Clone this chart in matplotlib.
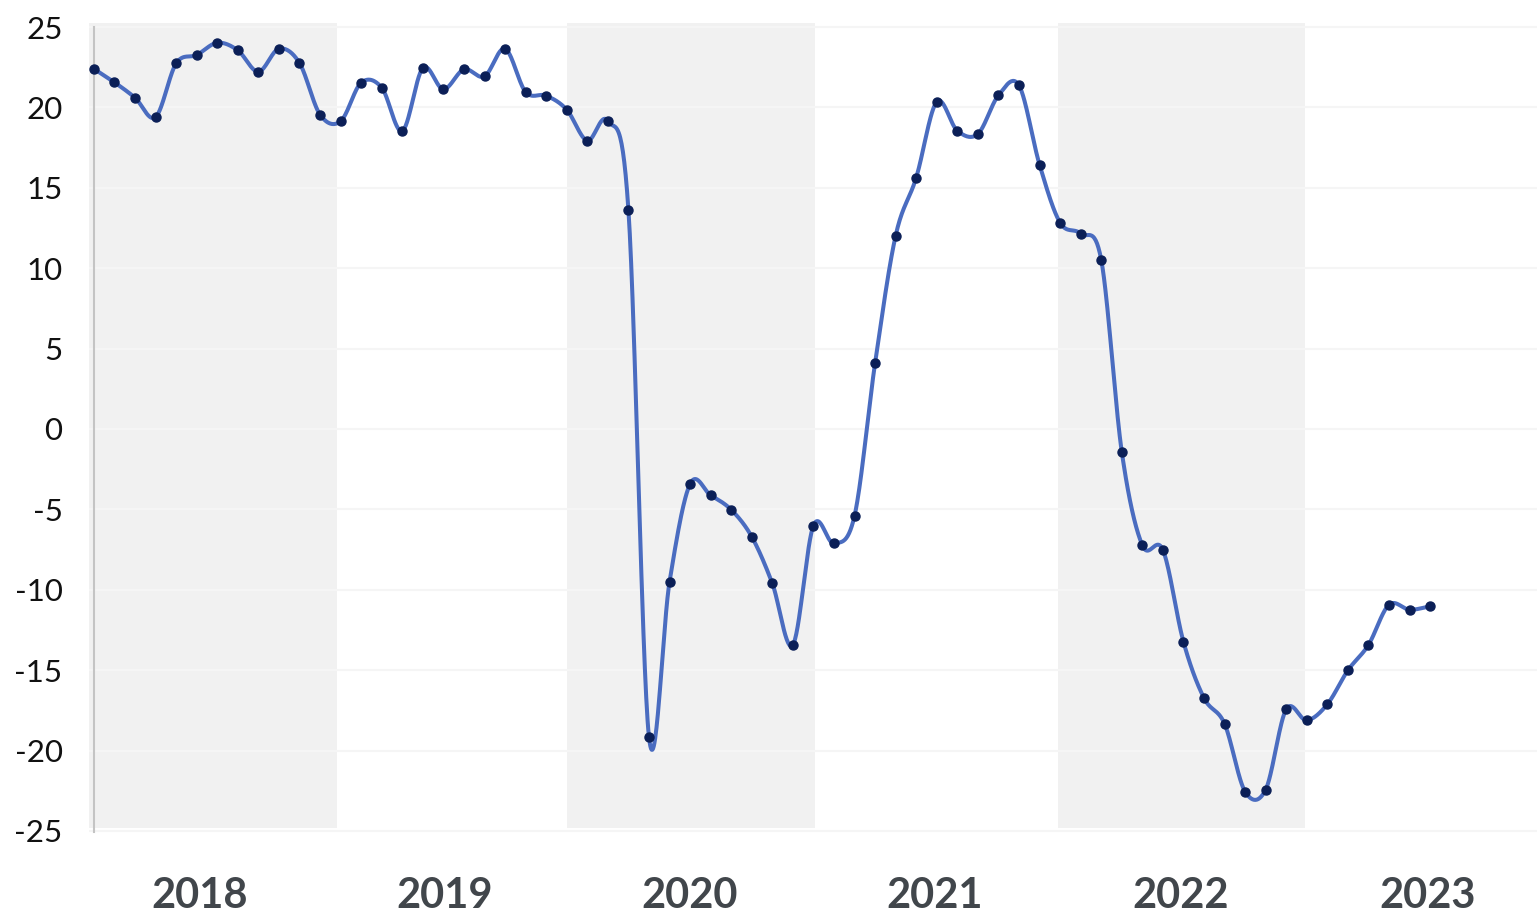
import numpy as np
import matplotlib
matplotlib.use("Agg")
import matplotlib.pyplot as plt

# monthly values, Jan 2018 .. Jun 2023 (month index 0..65)
values = [
    22.4, 21.56, 20.6, 19.4, 22.74, 23.26, 24.02, 23.55, 22.22, 23.65, 22.76, 19.55,
    19.14, 21.54, 21.23, 18.53, 22.45, 21.13, 22.37, 21.93, 23.65, 20.96, 20.73, 19.86,
    17.93, 19.14, 13.64, -19.14, -9.51, -3.42, -4.12, -5.02, -6.70, -9.60, -13.43, -6.01,
    -7.11, -5.4, 4.1, 12.02, 15.63, 20.35, 18.55, 18.35, 20.75, 21.37, 16.44, 12.83,
    12.15, 10.53, -1.41, -7.23, -7.52, -13.23, -16.73, -18.33, -22.55, -22.43, -17.43, -18.12,
    -17.12, -15.01, -13.43, -10.93, -11.24, -11.03,
]
months = np.arange(len(values))

year_labels = ["2018", "2019", "2020", "2021", "2022", "2023"]
year_label_pos = [5.16, 17.08, 29.0, 40.9, 52.85, 64.87]
shaded_years = [(-1.0, 11.82), (23.0, 35.09), (46.9, 58.9)]
y_ticks = [25, 20, 15, 10, 5, 0, -5, -10, -15, -20, -25]


def catmull_rom(x, y, n=30):
    x = np.asarray(x, float)
    y = np.asarray(y, float)
    yp = np.concatenate([[2 * y[0] - y[1]], y, [2 * y[-1] - y[-2]]])
    xs, ys = [], []
    for i in range(len(y) - 1):
        p0, p1, p2, p3 = yp[i], yp[i + 1], yp[i + 2], yp[i + 3]
        t = np.linspace(0, 1, n, endpoint=False)
        m1 = (p2 - p0) / 2
        m2 = (p3 - p1) / 2
        h00 = 2 * t**3 - 3 * t**2 + 1
        h10 = t**3 - 2 * t**2 + t
        h01 = -2 * t**3 + 3 * t**2
        h11 = t**3 - t**2
        ys.append(h00 * p1 + h10 * m1 + h01 * p2 + h11 * m2)
        xs.append(x[i] + t * (x[i + 1] - x[i]))
    xs.append([x[-1]])
    ys.append([y[-1]])
    return np.concatenate(xs), np.concatenate(ys)


fig = plt.figure(figsize=(15.37, 9.15), dpi=100)
# axes spans pixel rows 23..835
ax = fig.add_axes([89 / 1537, 80 / 915, 1 - 89 / 1537, 812 / 915])

for a, b in shaded_years:
    ax.axvspan(a, b, ymin=0.0087, ymax=1, color="#f1f1f1", lw=0, zorder=0)

for v in y_ticks:
    ax.axhline(v, color="#f5f5f5", lw=1.5, zorder=1)

ax.axvline(0, ymin=0.004, ymax=0.995, color="#c4c4c4", lw=1.5, zorder=2)

sx, sy = catmull_rom(months, values)
ax.plot(sx, sy, color="#4a6cc0", lw=2.9, zorder=3, solid_capstyle="round")
ax.plot(months, values, "o", color="#0b1f57", ms=6.5, zorder=4)

ax.set_xlim(-0.24, 70.2)
ax.set_ylim(-25.25, 25.25)

ax.set_yticks(y_ticks)
ax.set_yticklabels([str(v) for v in y_ticks], fontfamily="Lato", fontsize=22.5, color="#111111")
ax.set_xticks(year_label_pos)
ax.set_xticklabels(year_labels, fontfamily="Lato", fontweight="bold", fontsize=30, color="#41464b")
ax.tick_params(axis="y", length=0, pad=19)
ax.tick_params(axis="x", length=0, pad=30)

for s in ax.spines.values():
    s.set_visible(False)

fig.savefig("out.png", dpi=100)
